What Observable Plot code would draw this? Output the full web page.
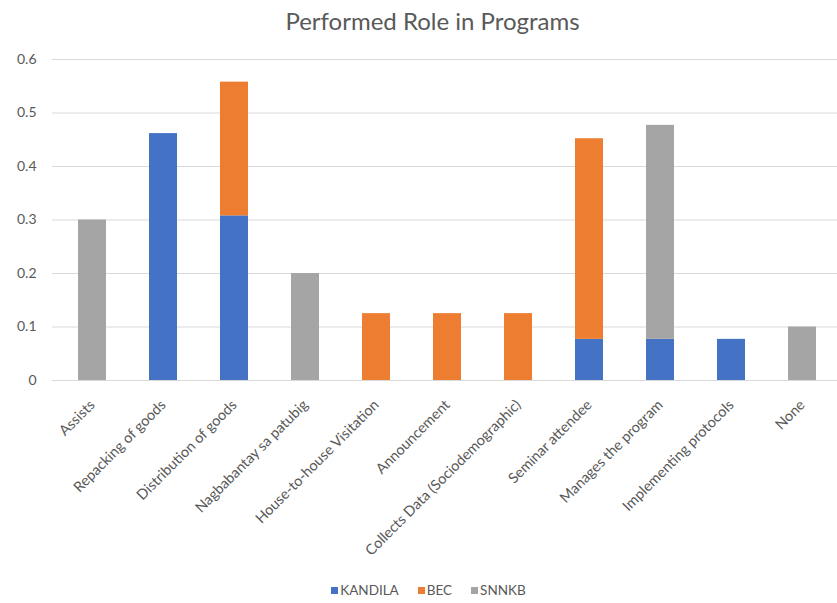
<!DOCTYPE html>
<html>
<head>
<meta charset="utf-8">
<script src="https://cdn.jsdelivr.net/npm/d3@7"></script>
<script src="https://cdn.jsdelivr.net/npm/@observablehq/plot@0.6"></script>
<style>
  html, body { margin: 0; padding: 0; background: #fff; }
  body { width: 837px; height: 603px; overflow: hidden; font-family: Lato, "Open Sans", sans-serif; }
  #title { height: 40px; text-align: center; font-size: 24px; color: #595959; line-height: 41px; padding-left: 28px; white-space: nowrap; }
  #legend { display: flex; justify-content: center; align-items: center; gap: 19px; font-size: 13.5px; color: #595959; height: 20px; padding-left: 20px; }
  #legend span.item { display: flex; align-items: center; gap: 2px; }
  #legend span.sw { width: 7px; height: 7px; display: inline-block; }
</style>
</head>
<body>
<div id="title">Performed Role in Programs</div>
<div id="chart"></div>
<div id="legend"></div>
<script>
const categories = [
  "Assists",
  "Repacking of goods",
  "Distribution of goods",
  "Nagbabantay sa patubig",
  "House-to-house Visitation",
  "Announcement",
  "Collects Data (Sociodemographic)",
  "Seminar attendee",
  "Manages the program",
  "Implementing protocols",
  "None"
];
const seriesNames = ["KANDILA", "BEC", "SNNKB"];
const seriesColors = ["#4472C4", "#ED7D31", "#A5A5A5"];
const kandila = [0, 0.4615, 0.3077, 0, 0, 0, 0, 0.0769, 0.0769, 0.0769, 0];
const bec     = [0, 0, 0.25, 0, 0.125, 0.125, 0.125, 0.375, 0, 0, 0];
const snnkb   = [0.3, 0, 0, 0.2, 0, 0, 0, 0, 0.4, 0, 0.1];
const yTicks = [0, 0.1, 0.2, 0.3, 0.4, 0.5, 0.6];

const seriesValues = [kandila, bec, snnkb];
const rows = [];
seriesNames.forEach((s, si) => {
  categories.forEach((c, ci) => {
    const v = seriesValues[si][ci];
    if (v > 0) rows.push({category: c, series: s, value: v});
  });
});

const chart = Plot.plot({
  width: 837,
  height: 540,
  marginTop: 19,
  marginLeft: 52,
  marginRight: 0,
  marginBottom: 200,
  style: { fontFamily: "Lato, 'Open Sans', sans-serif", fontSize: "14px", color: "#595959", background: "#fff" },
  x: { domain: categories, range: [52, 842], paddingInner: 0.6, paddingOuter: 0.3, label: null },
  y: { domain: [0, 0.6], label: null },
  color: { domain: seriesNames, range: seriesColors },
  marks: [
    Plot.gridY(yTicks, { stroke: "#d9d9d9", strokeOpacity: 1, strokeWidth: 1 }),
    Plot.axisY(yTicks, { tickSize: 0, tickPadding: 16, tickFormat: d => d === 0 ? "0" : d.toFixed(1), fontSize: 14, fill: "#595959", label: null }),
    Plot.barY(rows, { x: "category", y: "value", fill: "series", order: seriesNames }),
    Plot.ruleY([0], { stroke: "#d9d9d9", strokeWidth: 1 }),
    Plot.axisX({ tickSize: 0, tickPadding: 22, tickRotate: -45, textAnchor: "end", lineAnchor: "middle", fontSize: 14.5, fill: "#595959", label: null })
  ]
});
document.getElementById("chart").appendChild(chart);

const legend = document.getElementById("legend");
seriesNames.forEach((s, i) => {
  const item = document.createElement("span");
  item.className = "item";
  const sw = document.createElement("span");
  sw.className = "sw";
  sw.style.background = seriesColors[i];
  item.appendChild(sw);
  item.appendChild(document.createTextNode(s));
  legend.appendChild(item);
});
</script>
</body>
</html>
